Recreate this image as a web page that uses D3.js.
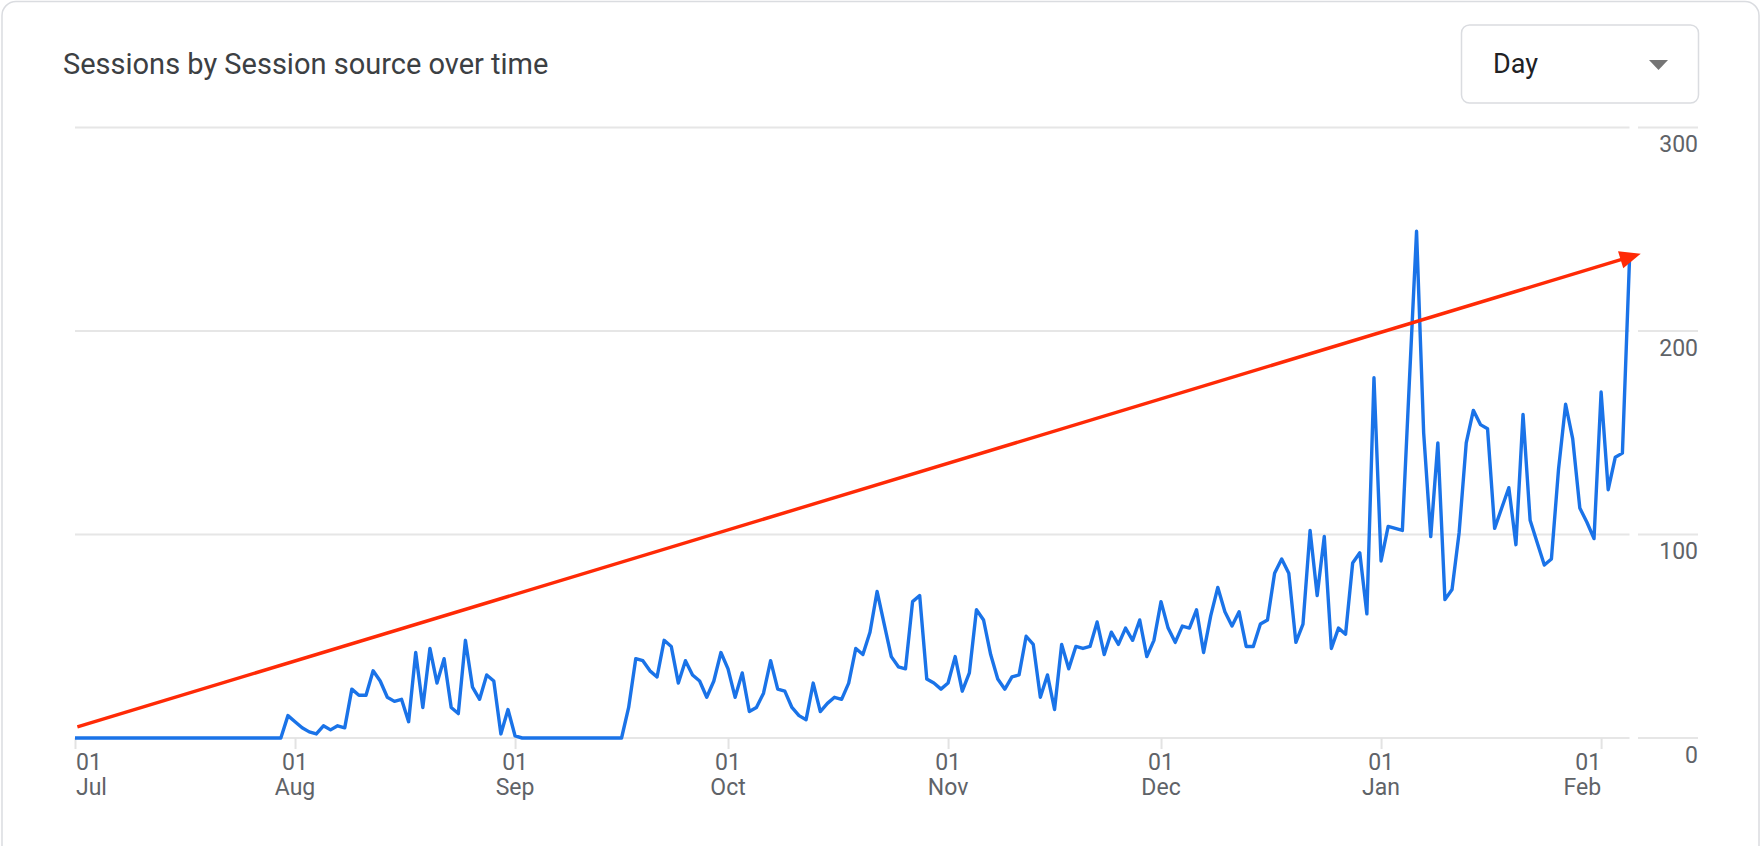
<!DOCTYPE html>
<html>
<head>
<meta charset="utf-8">
<script src="https://cdn.jsdelivr.net/npm/d3@7"></script>
<style>
  body { margin: 0; background: #fff; }
  svg { display: block; font-family: Roboto, "Noto Sans", sans-serif; }
</style>
</head>
<body>
<svg id="chart"></svg>
<script>
/* SIZES */
const width = 1762, height = 846;
const plot = { left: 75, right: 1629.5, top: 127.5, bottom: 738 };

/* DATA */
// daily sessions, one array per month, starting 01 Jul
const startDate = "2023-07-01";
const julSessions = [0,0,0,0,0,0,0,0,0,0, 0,0,0,0,0,0,0,0,0,0, 0,0,0,0,0,0,0,0,0,0, 11];
const augSessions = [8,5,3,2,6,4,6,5,24,21, 21,33,28,20,18,19,8,42,15,44, 27,39,15,12,48,25,19,31,28,2, 14];
const sepSessions = [1,0,0,0,0,0,0,0,0,0, 0,0,0,0,0,0,15,39,38,33, 30,48,45,27,38,31,28,20,28,42];
const octSessions = [34,20,32,13,15,22,38,24,23,15, 11,9,27,13,17,20,19,27,44,41, 52,72,56,40,35,34,67,70,29,27, 24];
const novSessions = [27,40,23,32,63,58,41,29,24,30, 31,50,46,20,31,14,46,34,45,44, 45,57,41,52,46,54,48,58,40,48];
const decSessions = [67,54,47,55,54,63,42,60,74,62, 55,62,45,45,56,58,81,88,81,47, 56,102,70,99,44,54,51,86,91,61, 177];
const janSessions = [87,104,103,102,176,249,150,99,145,68, 73,101,145,161,154,152,103,113,123,95, 159,107,96,85,88,132,164,147,113,106, 98];
const febSessions = [170,122,138,140,235];

const yTicks = [0, 100, 200, 300];
const xTickDates = ["2023-07-01", "2023-08-01", "2023-09-01", "2023-10-01", "2023-11-01", "2023-12-01", "2024-01-01", "2024-02-01"];
const monthLabels = ["Jul", "Aug", "Sep", "Oct", "Nov", "Dec", "Jan", "Feb"];

// hand drawn trend arrow, in data units
const arrowFrom = { date: "2023-07-01T08:00", value: 5.5 };
const arrowTo = { date: "2024-02-06T14:00", value: 238 };

const titleText = "Sessions by Session source over time";
const periodText = "Day";

/* BUILD SERIES */
const parseDay = d3.isoParse;
const allSessions = [].concat(julSessions, augSessions, sepSessions, octSessions,
                              novSessions, decSessions, janSessions, febSessions);
const series = allSessions.map((v, i) => ({
    date: d3.timeDay.offset(parseDay(startDate), i),
    value: v
}));

/* SCALES */
const xScale = d3.scaleTime()
    .domain(d3.extent(series, d => d.date))
    .range([plot.left, plot.right]);

const yScale = d3.scaleLinear()
    .domain([0, 300])
    .range([plot.bottom, plot.top]);

/* SVG */
const svg = d3.select("#chart")
    .attr("width", width)
    .attr("height", height);

svg.append("rect")
    .attr("width", width).attr("height", height)
    .attr("fill", "#fff");

// card outline
svg.append("rect")
    .attr("x", 2).attr("y", 1.5)
    .attr("width", 1757).attr("height", 900)
    .attr("rx", 14)
    .attr("fill", "none")
    .attr("stroke", "#dadce0")
    .attr("stroke-width", 1.5);

// TITLE
svg.append("text")
    .attr("x", 63).attr("y", 74)
    .attr("font-size", 29)
    .attr("fill", "#3c4043")
    .text(titleText);

// DROPDOWN
const dropdown = svg.append("g");
dropdown.append("rect")
    .attr("x", 1461.5).attr("y", 25)
    .attr("width", 237).attr("height", 78)
    .attr("rx", 8)
    .attr("fill", "#fff")
    .attr("stroke", "#dadce0")
    .attr("stroke-width", 1.5);
dropdown.append("text")
    .attr("x", 1493).attr("y", 73)
    .attr("font-size", 27)
    .attr("fill", "#202124")
    .text(periodText);
dropdown.append("path")
    .attr("d", "M1649,60 L1668,60 L1658.5,70 Z")
    .attr("fill", "#757575");

// GRIDLINES
const grid = svg.append("g").attr("class", "grid");
grid.selectAll("line.main")
    .data(yTicks)
    .join("line")
    .attr("class", "main")
    .attr("x1", plot.left).attr("x2", plot.right)
    .attr("y1", d => yScale(d)).attr("y2", d => yScale(d))
    .attr("stroke", "#e6e6e6")
    .attr("stroke-width", 2);
grid.selectAll("line.side")
    .data(yTicks)
    .join("line")
    .attr("class", "side")
    .attr("x1", 1638).attr("x2", 1698)
    .attr("y1", d => yScale(d)).attr("y2", d => yScale(d))
    .attr("stroke", "#e6e6e6")
    .attr("stroke-width", 2);

// X AXIS
const xDates = xTickDates.map(parseDay);
const xAxisGroup = svg.append("g")
    .attr("transform", `translate(0, ${plot.bottom})`)
    .call(d3.axisBottom(xScale).tickValues(xDates).tickSize(11).tickFormat(""));
xAxisGroup.select(".domain").remove();
xAxisGroup.selectAll(".tick line")
    .attr("stroke", "#e3e3e3")
    .attr("stroke-width", 2);

const anchorFor = i => i === 0 ? "start" : (i === xDates.length - 1 ? "end" : "middle");
const xLabels = svg.append("g")
    .attr("font-size", 23)
    .attr("fill", "#5f6368");
xLabels.selectAll("text")
    .data(xDates)
    .join("text")
    .attr("x", (d, i) => xScale(d) + (i === 0 ? 1 : 0))
    .attr("y", plot.bottom + 31.5)
    .attr("text-anchor", (d, i) => anchorFor(i))
    .each(function (d, i) {
        const t = d3.select(this);
        t.append("tspan").text(d3.timeFormat("%d")(d));
        t.append("tspan")
            .attr("x", xScale(d) + (i === 0 ? 1 : 0))
            .attr("dy", 25)
            .text(monthLabels[i]);
    });

// Y AXIS (labels sit under their gridline, right edge)
const yAxisGroup = svg.append("g")
    .attr("transform", `translate(1698, 0)`)
    .call(d3.axisRight(yScale).tickValues(yTicks).tickSize(0).tickPadding(0));
yAxisGroup.select(".domain").remove();
yAxisGroup.selectAll(".tick text")
    .attr("x", 0)
    .attr("dy", 24)
    .attr("text-anchor", "end")
    .attr("font-family", "Roboto, 'Noto Sans', sans-serif")
    .attr("font-size", 23)
    .attr("fill", "#5f6368");

// SESSIONS LINE
const line = d3.line()
    .x(d => xScale(d.date))
    .y(d => yScale(d.value));

svg.append("path")
    .datum(series)
    .attr("d", line)
    .attr("fill", "none")
    .attr("stroke", "#1a73e8")
    .attr("stroke-width", 3.4)
    .attr("stroke-linejoin", "round");

// TREND ARROW
const ax1 = xScale(parseDay(arrowFrom.date)), ay1 = yScale(arrowFrom.value);
const ax2 = xScale(parseDay(arrowTo.date)), ay2 = yScale(arrowTo.value);
const angle = Math.atan2(ay2 - ay1, ax2 - ax1);
const headLen = 21, headHalf = 9;
const bx = ax2 - headLen * Math.cos(angle), by = ay2 - headLen * Math.sin(angle);

svg.append("line")
    .attr("x1", ax1).attr("y1", ay1)
    .attr("x2", bx + 2 * Math.cos(angle)).attr("y2", by + 2 * Math.sin(angle))
    .attr("stroke", "#ff2a06")
    .attr("stroke-width", 3.4);

svg.append("polygon")
    .attr("points", [
        [ax2, ay2],
        [bx - headHalf * Math.sin(angle), by + headHalf * Math.cos(angle)],
        [bx + headHalf * Math.sin(angle), by - headHalf * Math.cos(angle)]
    ].map(p => p.join(",")).join(" "))
    .attr("fill", "#ff2a06");
</script>
</body>
</html>
